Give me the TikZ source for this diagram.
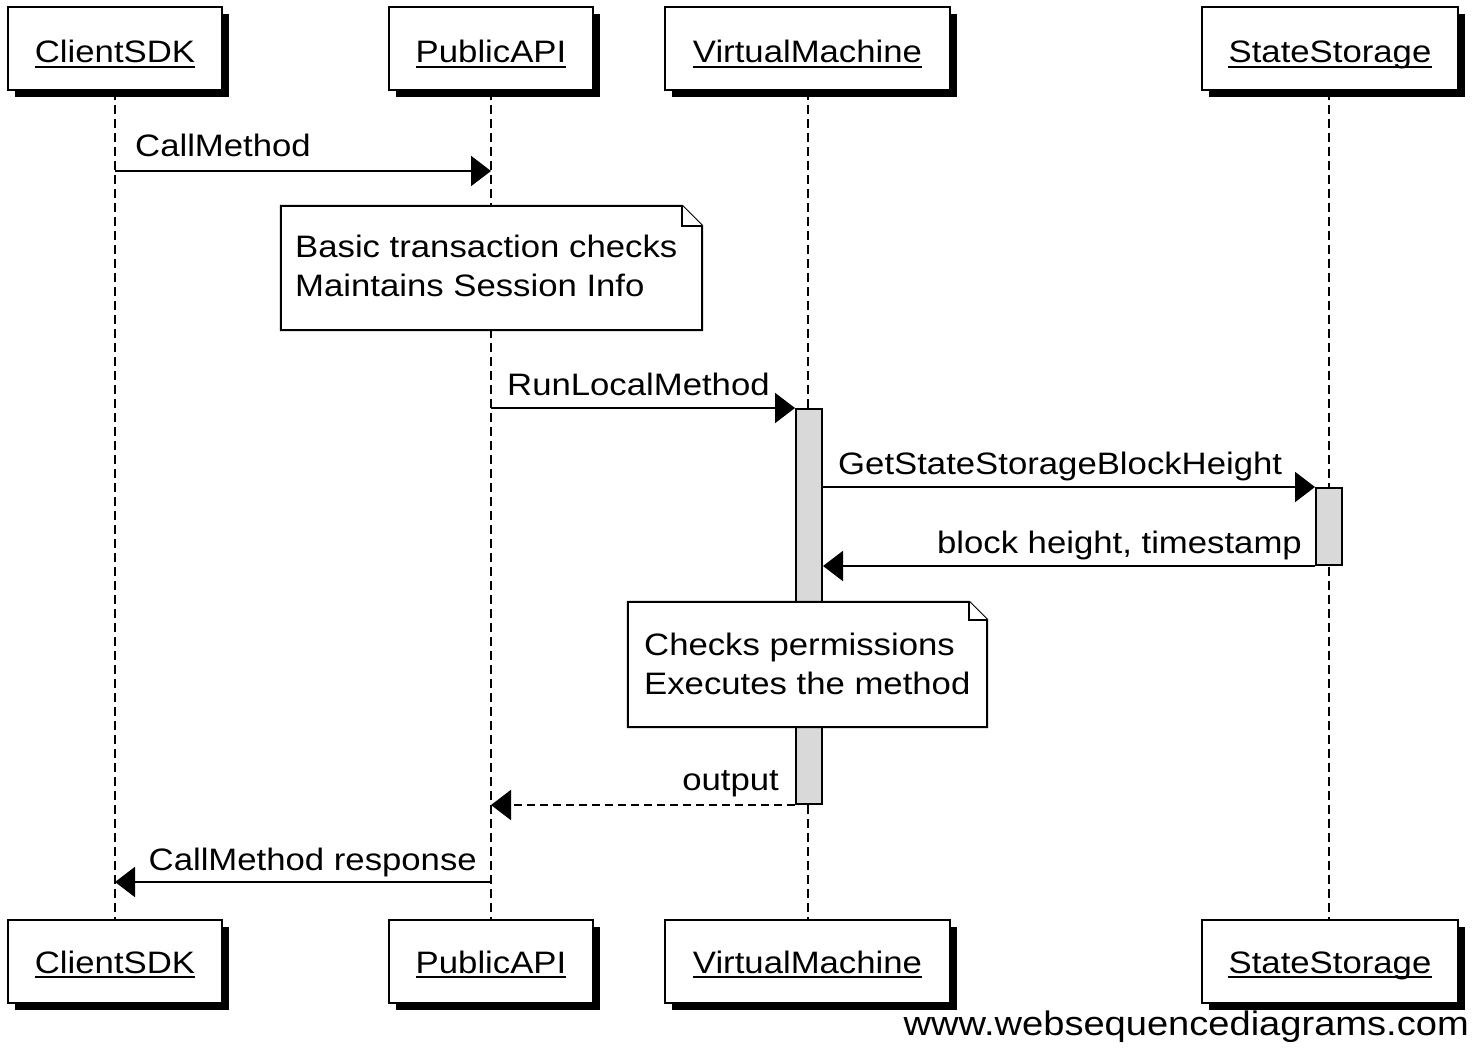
\documentclass[tikz,border=0pt]{standalone}
\usepackage{fontspec}
\setmainfont{Liberation Sans}[FakeStretch=1.12]
\newfontfamily\wmfont{Liberation Sans}[FakeStretch=1.12]
\usetikzlibrary{arrows.meta,calc,shadows}
\begin{document}
\begin{tikzpicture}[x=1pt,y=-1pt,
  lbl/.style={inner sep=0pt, font=\fontsize{31}{38}\selectfont},
  hdrbox/.style={draw=black, line width=2pt, fill=white, minimum width=#1, minimum height=83pt, inner sep=0pt,
    drop shadow={shadow xshift=7pt, shadow yshift=-7pt, opacity=1, fill=black}},
  lifeline/.style={line width=1.5pt, dash pattern=on 9pt off 5pt},
  msg/.style={line width=2pt, -{Triangle[length=20pt,width=30pt]}},
  reply/.style={msg, dash pattern=on 8pt off 5pt},
  actbox/.style={draw=black, line width=2pt, fill=black!15, minimum width=26pt, inner sep=0pt},
  notebody/.style={draw=black, line width=2pt, fill=white},
  notefold/.style={draw=black, line width=1.5pt, fill=white},
  ulin/.style={line width=2pt},
]
\fill[white] (0,0) rectangle (1481,1051);
\useasboundingbox (0,0) rectangle (1481,1051);

% participant boxes (top and bottom)
\foreach \nm/\x/\w/\t in {cs/115/214pt/ClientSDK, pa/491/204pt/PublicAPI, vm/807.5/285pt/VirtualMachine, ss/1330/256pt/StateStorage}{
  \node[hdrbox=\w] (\nm T) at (\x,48.5) {};
  \node[lbl, anchor=base] (\nm Tt) at (\x,63) {\t};
  \draw[ulin] ($(\nm Tt.base west)+(0,4)$) -- ($(\nm Tt.base east)+(0,4)$);
  \node[hdrbox=\w] (\nm B) at (\x,961) {};
  \node[lbl, anchor=base] (\nm Bt) at (\x,973) {\t};
  \draw[ulin] ($(\nm Bt.base west)+(0,4)$) -- ($(\nm Bt.base east)+(0,4)$);
}

% lifelines
\draw[lifeline] (csT.south) -- (csB.north);
\draw[lifeline] (paT.south) -- (paB.north);
\draw[lifeline] ([xshift=0.5pt]vmT.south) -- ([xshift=0.5pt]vmB.north);
\draw[lifeline] ([xshift=-1pt]ssT.south) -- ([xshift=-1pt]ssB.north);

% activations
\node[actbox, minimum height=395pt] (vmA) at (809,606.5) {};
\node[actbox, minimum height=77pt] (ssA) at (1329,526.5) {};

% notes
\node[minimum width=421pt, minimum height=124pt, inner sep=0pt] (n1) at (491.5,268) {};
\draw[notebody] (n1.north west) -- ($(n1.north east)+(-20,0)$) -- ($(n1.north east)+(0,20)$) -- (n1.south east) -- (n1.south west) -- cycle;
\draw[notefold] ($(n1.north east)+(-20,0)$) -- ($(n1.north east)+(-20,20)$) -- ($(n1.north east)+(0,20)$);
\node[lbl, anchor=base west] (n1a) at (295,258) {Basic transaction checks};
\node[lbl, anchor=base west] (n1b) at (295,297) {Maintains Session Info};

\node[minimum width=359pt, minimum height=125pt, inner sep=0pt] (n2) at (807.5,664.5) {};
\draw[notebody] (n2.north west) -- ($(n2.north east)+(-18,0)$) -- ($(n2.north east)+(0,18)$) -- (n2.south east) -- (n2.south west) -- cycle;
\draw[notefold] ($(n2.north east)+(-18,0)$) -- ($(n2.north east)+(-18,18)$) -- ($(n2.north east)+(0,18)$);
\node[lbl, anchor=base west] (n2a) at (644,655) {Checks permissions};
\node[lbl, anchor=base west] (n2b) at (644,694) {Executes the method};

% messages
\coordinate (y1) at (0,171);
\coordinate (y6) at (0,882);
\draw[msg] (csT.south |- y1) -- (paT.south |- y1);
\node[lbl, anchor=base west] (l1) at (135,157) {CallMethod};

\draw[msg] (paT.south |- vmA.north) -- (vmA.north west);
\node[lbl, anchor=base west] (l2) at (507,395) {RunLocalMethod};

\draw[msg] (vmA.east |- ssA.north) -- (ssA.north west);
\node[lbl, anchor=base west] (l3) at (838,474) {GetStateStorageBlockHeight};

\draw[msg] (ssA.south west) -- (vmA.east |- ssA.south);
\node[lbl, anchor=base east] (l4) at (1302,553) {block height, timestamp};

\draw[reply] (vmA.south west) -- (paT.south |- vmA.south);
\node[lbl, anchor=base east] (l5) at (779,790) {output};

\draw[msg] (paT.south |- y6) -- (csT.south |- y6);
\node[lbl, anchor=base east] (l6) at (477,870) {CallMethod response};

% watermark
\node[inner sep=0pt, anchor=base east, font=\wmfont\fontsize{34}{40}\selectfont] (wm) at (1469,1035) {www.websequencediagrams.com};
\end{tikzpicture}
\end{document}
